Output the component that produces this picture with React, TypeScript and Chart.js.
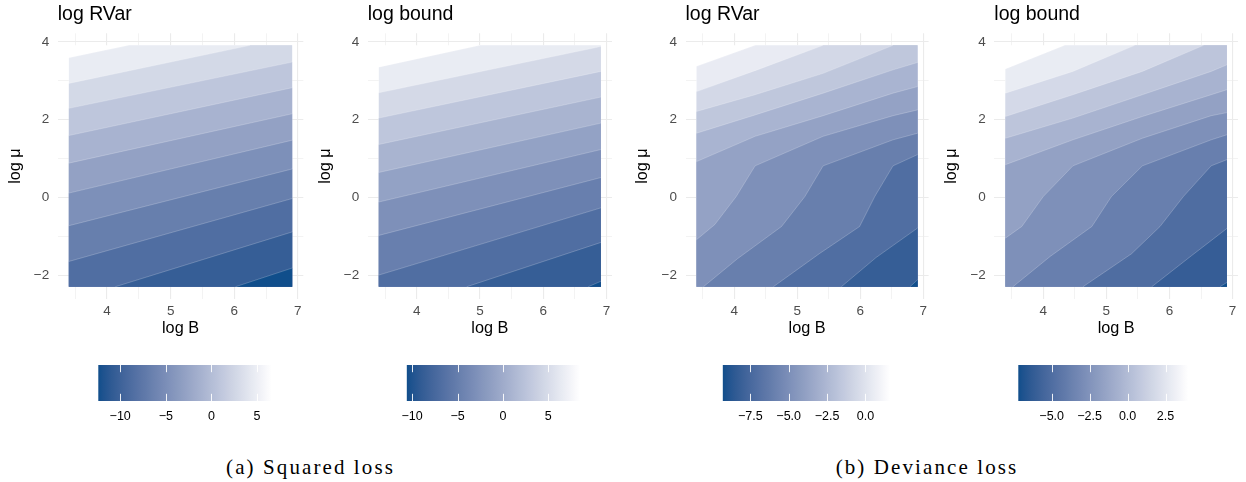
import React, { useEffect, useRef } from "react";
import { Chart, registerables } from "chart.js";

Chart.register(...registerables);

type Pt = [number, number];

// ---------------- data ----------------
const domainLogB: number[] = [3.40, 6.91];
const domainLogMu: number[] = [-2.30, 3.91];
const xGridValues = [3.5, 4, 4.5, 5, 5.5, 6, 6.5, 7];
const xTickLabels = [4, 5, 6, 7];
const yGridValues = [-2, -1, 0, 1, 2, 3, 4];
const yTickLabels = [-2, 0, 2, 4];

const panelTitles = ["log RVar", "log bound", "log RVar", "log bound"];
const xAxisTitle = "log B";
const yAxisTitle = "log \u03bc";
const captions = ["(a) Squared loss", "(b) Deviance loss"];

// contour boundaries (log B, log mu), from the lightest band edge to the darkest
const sqRVarLines: Pt[][] = [
  [[3.40, 3.59], [4.34, 3.91]],
  [[3.40, 2.93], [6.25, 3.91]],
  [[3.40, 2.29], [6.91, 3.48]],
  [[3.40, 1.59], [6.91, 2.82]],
  [[3.40, 0.88], [6.91, 2.15]],
  [[3.40, 0.11], [6.91, 1.47]],
  [[3.40, -0.73], [6.91, 0.73]],
  [[3.40, -1.65], [6.91, -0.03]],
  [[4.13, -2.30], [6.91, -0.89]],
  [[6.02, -2.30], [6.91, -1.82]],
];
const sqBoundLines: Pt[][] = [
  [[3.40, 3.35], [5.00, 3.91]],
  [[3.40, 2.69], [6.91, 3.88]],
  [[3.40, 2.04], [6.91, 3.24]],
  [[3.40, 1.36], [6.91, 2.58]],
  [[3.40, 0.64], [6.91, 1.91]],
  [[3.40, -0.12], [6.91, 1.23]],
  [[3.40, -0.98], [6.91, 0.51]],
  [[3.40, -2.00], [6.91, -0.27]],
  [[4.79, -2.30], [6.91, -1.16]],
  [[6.71, -2.30], [6.91, -2.16]],
];
const devRVarLines: Pt[][] = [
  [[3.40, 3.37], [4.33, 3.91]],
  [[3.40, 2.72], [4.33, 3.26], [5.41, 3.91]],
  [[3.40, 2.21], [4.33, 2.64], [5.41, 3.19], [6.52, 3.91]],
  [[3.40, 1.65], [4.33, 2.12], [5.41, 2.68], [6.52, 3.28], [6.91, 3.47]],
  [[3.40, 0.92], [4.33, 1.57], [5.41, 2.10], [6.52, 2.68], [6.91, 2.85]],
  [[3.40, -1.09], [3.69, -0.70], [4.03, 0.02], [4.33, 0.81], [5.41, 1.57], [6.52, 2.10], [6.91, 2.25]],
  [[3.51, -2.30], [4.05, -1.58], [4.75, -0.75], [5.12, 0.02], [5.41, 0.81], [6.52, 1.48], [6.91, 1.65]],
  [[4.62, -2.30], [5.35, -1.45], [5.99, -0.75], [6.23, 0.02], [6.52, 0.81], [6.91, 1.10]],
  [[5.70, -2.30], [6.25, -1.55], [6.91, -0.79]],
  [[6.79, -2.30], [6.91, -2.12]],
];
const devBoundLines: Pt[][] = [
  [[3.40, 3.30], [4.34, 3.91]],
  [[3.40, 2.68], [4.47, 3.24], [5.45, 3.91]],
  [[3.40, 2.08], [4.47, 2.64], [5.57, 3.24], [6.54, 3.91]],
  [[3.40, 1.52], [4.47, 2.04], [5.57, 2.64], [6.66, 3.24], [6.91, 3.41]],
  [[3.40, 0.84], [4.47, 1.48], [5.57, 2.08], [6.66, 2.64], [6.91, 2.77]],
  [[3.40, -1.05], [3.66, -0.75], [4.00, 0.02], [4.47, 0.81], [5.57, 1.52], [6.66, 2.10], [6.91, 2.18]],
  [[3.52, -2.30], [4.11, -1.52], [4.77, -0.75], [5.08, 0.02], [5.57, 0.81], [6.66, 1.48], [6.91, 1.61]],
  [[4.63, -2.30], [5.40, -1.45], [5.85, -0.75], [6.22, 0.02], [6.66, 0.81], [6.91, 0.97]],
  [[5.72, -2.30], [6.35, -1.50], [6.91, -0.80]],
  [[6.80, -2.30], [6.91, -2.19]],
];

// band values (darkest band first, lightest last)
const sqRVarLevels = [-12.4, -10.5, -8.6, -6.7, -4.8, -2.9, -1.0, 0.9, 2.8, 4.7, 6.6];
const sqBoundLevels = [-10.6, -8.7, -6.8, -4.8, -2.9, -1.0, 0.9, 2.8, 4.7, 6.6, 8.5];
const devRVarLevels = [-9.3, -8.2, -7.1, -6.0, -4.9, -3.8, -2.7, -1.6, -0.6, 0.5, 1.6];
const devBoundLevels = [-7.2, -6.1, -5.0, -3.8, -2.7, -1.6, -0.5, 0.6, 1.8, 2.9, 4.0];

// colour bar tick labels
const sqRVarBarTicks = [-10, -5, 0, 5];
const sqBoundBarTicks = [-10, -5, 0, 5];
const devRVarBarTicks = [-7.5, -5, -2.5, 0];
const devBoundBarTicks = [-5, -2.5, 0, 2.5];
const barTickDecimals = [0, 0, 1, 1];

const panelLines = [sqRVarLines, sqBoundLines, devRVarLines, devBoundLines];
const panelLevels = [sqRVarLevels, sqBoundLevels, devRVarLevels, devBoundLevels];
const panelBarTicks = [sqRVarBarTicks, sqBoundBarTicks, devRVarBarTicks, devBoundBarTicks];

// ---------------- layout / style ----------------
const SANS = "'Liberation Sans', Arial, Helvetica, sans-serif";
const SERIF = "'Liberation Serif', 'Times New Roman', serif";
const LOW_HEX = "#104E8B";
const HIGH_HEX = "#FFFFFF";
const GRID = "#EBEBEB";
const PANEL_H = 342;
const PLOT_BOTTOM = 298.8;
const TICK_SIZE = 13.5;
const BAR_LABEL_SIZE = 12.5;
const panelLayout = [
  { plotLeft: 57.7, plotRight: 303.3 },
  { plotLeft: 367.7, plotRight: 612.0 },
  { plotLeft: 685.5, plotRight: 928.6 },
  { plotLeft: 994.3, plotRight: 1238.0 },
];
const BAR_TOP = 365;
const BAR_H = 36;
const barLayout = [
  { left: 98.3, right: 271.7 },
  { left: 406.7, right: 580.0 },
  { left: 722.7, right: 890.0 },
  { left: 1018.3, right: 1188.3 },
];
const captionCenters = [310.5, 927];

// ---------------- colour ramp (Lab interpolation) ----------------
function hexToRgb(h: string): number[] {
  const n = parseInt(h.slice(1), 16);
  return [(n >> 16) & 255, (n >> 8) & 255, n & 255];
}
function toLin(c: number) {
  const v = c / 255;
  return v <= 0.04045 ? v / 12.92 : Math.pow((v + 0.055) / 1.055, 2.4);
}
function fromLin(c: number) {
  const v = c <= 0.0031308 ? 12.92 * c : 1.055 * Math.pow(c, 1 / 2.4) - 0.055;
  return Math.round(Math.min(1, Math.max(0, v)) * 255);
}
function rgbToLab(rgb: number[]) {
  const [r, g, b] = rgb.map(toLin);
  const X = (0.4124564 * r + 0.3575761 * g + 0.1804375 * b) / 0.95047;
  const Y = 0.2126729 * r + 0.7151522 * g + 0.072175 * b;
  const Z = (0.0193339 * r + 0.119192 * g + 0.9503041 * b) / 1.08883;
  const f = (t: number) => (t > 0.008856 ? Math.cbrt(t) : 7.787 * t + 16 / 116);
  const fx = f(X), fy = f(Y), fz = f(Z);
  return [116 * fy - 16, 500 * (fx - fy), 200 * (fy - fz)];
}
function labToCss(lab: number[]) {
  const [L, a, b] = lab;
  const fy = (L + 16) / 116, fx = fy + a / 500, fz = fy - b / 200;
  const inv = (t: number) => {
    const t3 = t * t * t;
    return t3 > 0.008856 ? t3 : (t - 16 / 116) / 7.787;
  };
  const X = 0.95047 * inv(fx), Y = inv(fy), Z = 1.08883 * inv(fz);
  const r = 3.2404542 * X - 1.5371385 * Y - 0.4985314 * Z;
  const g = -0.969266 * X + 1.8760108 * Y + 0.041556 * Z;
  const bb = 0.0556434 * X - 0.2040259 * Y + 1.0572252 * Z;
  return `rgb(${fromLin(r)},${fromLin(g)},${fromLin(bb)})`;
}
const LOW_LAB = rgbToLab(hexToRgb(LOW_HEX));
const HIGH_LAB = rgbToLab(hexToRgb(HIGH_HEX));
function rampColor(t: number) {
  const u = Math.min(1, Math.max(0, t));
  return labToCss(LOW_LAB.map((v, i) => v + (HIGH_LAB[i] - v) * u));
}

function fmt(v: number, d: number) {
  const s = Math.abs(v).toFixed(d);
  return (v < 0 ? "\u2212" : "") + s;
}

// ---------------- polygon closing along the plot domain ----------------
function perimeterPos(p: Pt): number {
  const [x0, x1] = domainLogB;
  const [y0, y1] = domainLogMu;
  const [x, y] = p;
  const d = [Math.abs(y - y1), Math.abs(x - x1), Math.abs(y - y0), Math.abs(x - x0)];
  const e = d.indexOf(Math.min(...d));
  if (e === 0) return (x - x0) / (x1 - x0);
  if (e === 1) return 1 + (y1 - y) / (y1 - y0);
  if (e === 2) return 2 + (x1 - x) / (x1 - x0);
  return 3 + (y - y0) / (y1 - y0);
}
function corner(k: number): Pt {
  const [x0, x1] = domainLogB;
  const [y0, y1] = domainLogMu;
  const m = ((k % 4) + 4) % 4;
  if (m === 1) return [x1, y1];
  if (m === 2) return [x1, y0];
  if (m === 3) return [x0, y0];
  return [x0, y1];
}
function closeBelow(line: Pt[]): Pt[] {
  const pe = perimeterPos(line[line.length - 1]);
  let ps = perimeterPos(line[0]);
  if (ps <= pe) ps += 4;
  const out: Pt[] = line.slice();
  for (let c = Math.ceil(pe); c < ps; c++) out.push(corner(c));
  return out;
}

// ---------------- chart configs ----------------
function makePanelConfig(idx: number, canvasLeft: number, canvasW: number) {
  const lay = panelLayout[idx];
  const lines = panelLines[idx];
  const levels = panelLevels[idx];
  const lo = Math.min(...levels), hi = Math.max(...levels);
  const col = (v: number) => rampColor((v - lo) / (hi - lo));
  const [x0, x1] = domainLogB;
  const [y0, y1] = domainLogMu;
  const ex = (x1 - x0) * 0.05, ey = (y1 - y0) * 0.05;

  const polys: { pts: Pt[]; color: string }[] = [];
  polys.push({ pts: [[x0, y1], [x1, y1], [x1, y0], [x0, y0]], color: col(levels[levels.length - 1]) });
  lines.forEach((ln, i) => polys.push({ pts: closeBelow(ln), color: col(levels[levels.length - 2 - i]) }));

  const total = polys.length + lines.length;
  const datasets: any[] = [];
  polys.forEach((p, k) =>
    datasets.push({
      data: p.pts.map(([x, y]) => ({ x, y })),
      showLine: true,
      fill: "shape",
      backgroundColor: p.color,
      borderColor: "rgba(0,0,0,0)",
      borderWidth: 0,
      pointRadius: 0,
      pointHoverRadius: 0,
      tension: 0,
      order: total - k,
    })
  );
  lines.forEach((ln, k) =>
    datasets.push({
      data: ln.map(([x, y]) => ({ x, y })),
      showLine: true,
      fill: false,
      borderColor: "rgba(255,255,255,0.35)",
      borderWidth: 0.6,
      pointRadius: 0,
      pointHoverRadius: 0,
      tension: 0,
      order: total - polys.length - k,
    })
  );

  const yAxisW = lay.plotLeft - canvasLeft;
  const yTitleCenter = lay.plotLeft - 42.6 - canvasLeft;
  const padRight = canvasW - (lay.plotRight - canvasLeft);

  return {
    type: "scatter",
    data: { datasets },
    options: {
      responsive: false,
      animation: false,
      events: [],
      layout: { padding: { left: 0, right: padRight, top: 0, bottom: 0 } },
      plugins: {
        legend: { display: false },
        tooltip: { enabled: false },
        title: {
          display: true,
          text: panelTitles[idx],
          align: "start",
          fullSize: false,
          color: "#000",
          font: { family: SANS, size: 19.5, weight: "normal" },
          padding: { top: 3.2, bottom: 6.7 },
        },
      },
      scales: {
        x: {
          type: "linear",
          min: x0 - ex,
          max: x1 + ex,
          afterBuildTicks: (s: any) => {
            s.ticks = xGridValues.map((v) => ({ value: v }));
          },
          afterFit: (s: any) => {
            s.height = PANEL_H - PLOT_BOTTOM;
          },
          border: { display: false },
          grid: {
            drawTicks: false,
            color: GRID,
            lineWidth: (c: any) => (c.tick && xTickLabels.includes(c.tick.value) ? 1.1 : 0.6),
          },
          ticks: {
            autoSkip: false,
            maxRotation: 0,
            padding: 4.6,
            color: "#4D4D4D",
            font: { family: SANS, size: TICK_SIZE },
            callback: (v: any) => (xTickLabels.includes(v) ? fmt(v, 0) : ""),
          },
          title: {
            display: true,
            text: xAxisTitle,
            color: "#000",
            font: { family: SANS, size: 16.25 },
            padding: { top: 0, bottom: 3.85 },
          },
        },
        y: {
          type: "linear",
          min: y0 - ey,
          max: y1 + ey,
          afterBuildTicks: (s: any) => {
            s.ticks = yGridValues.map((v) => ({ value: v }));
          },
          afterFit: (s: any) => {
            s.width = yAxisW;
          },
          border: { display: false },
          grid: {
            drawTicks: false,
            color: GRID,
            lineWidth: (c: any) => (c.tick && yTickLabels.includes(c.tick.value) ? 1.1 : 0.6),
          },
          ticks: {
            autoSkip: false,
            padding: 8.5,
            color: "#4D4D4D",
            font: { family: SANS, size: TICK_SIZE },
            callback: (v: any) => (yTickLabels.includes(v) ? fmt(v, 0) : ""),
          },
          title: {
            display: true,
            text: yAxisTitle,
            color: "#000",
            font: { family: SANS, size: 16.25 },
            padding: { top: yTitleCenter - 9.75, bottom: 0 },
          },
        },
      },
    },
  };
}

const colorbarTickPlugin = {
  id: "colorbarTicks",
  afterDatasetsDraw(chart: any) {
    const { ctx, chartArea: a, scales } = chart;
    const xs = scales.x;
    const h = (a.bottom - a.top) / 5;
    ctx.save();
    ctx.strokeStyle = "rgba(255,255,255,0.9)";
    ctx.lineWidth = 1;
    for (const t of xs.ticks) {
      const px = Math.round(xs.getPixelForValue(t.value)) + 0.5;
      ctx.beginPath();
      ctx.moveTo(px, a.top);
      ctx.lineTo(px, a.top + h);
      ctx.moveTo(px, a.bottom - h);
      ctx.lineTo(px, a.bottom);
      ctx.stroke();
    }
    ctx.restore();
  },
};

function makeBarConfig(idx: number, canvasLeft: number, canvasW: number, canvasH: number) {
  const lay = barLayout[idx];
  const levels = panelLevels[idx];
  const lo = Math.min(...levels), hi = Math.max(...levels);
  const ticks = panelBarTicks[idx];
  const dec = barTickDecimals[idx];
  const padLeft = lay.left - canvasLeft;
  const padRight = canvasW - (lay.right - canvasLeft);
  return {
    type: "bar",
    data: {
      labels: [""],
      datasets: [
        {
          data: [[lo, hi]],
          barPercentage: 1,
          categoryPercentage: 1,
          borderWidth: 0,
          backgroundColor: (c: any) => {
            const chart = c.chart;
            const xs = chart.scales && chart.scales.x;
            if (!xs || !chart.chartArea) return LOW_HEX;
            const p0 = xs.getPixelForValue(lo), p1 = xs.getPixelForValue(hi);
            const g = chart.ctx.createLinearGradient(p0, 0, p1, 0);
            const n = 40;
            for (let i = 0; i <= n; i++) g.addColorStop(i / n, rampColor(i / n));
            return g;
          },
        },
      ],
    },
    options: {
      indexAxis: "y",
      responsive: false,
      animation: false,
      events: [],
      layout: { padding: { left: padLeft, right: padRight, top: 0, bottom: 0 } },
      plugins: { legend: { display: false }, tooltip: { enabled: false }, title: { display: false } },
      scales: {
        y: { type: "category", display: false },
        x: {
          type: "linear",
          min: lo,
          max: hi,
          afterBuildTicks: (s: any) => {
            s.ticks = ticks.map((v) => ({ value: v }));
          },
          afterFit: (s: any) => {
            s.height = canvasH - BAR_H;
          },
          border: { display: false },
          grid: { display: false, drawTicks: false },
          ticks: {
            autoSkip: false,
            maxRotation: 0,
            padding: 7.8,
            color: "#000",
            font: { family: SANS, size: BAR_LABEL_SIZE },
            callback: (v: any) => fmt(v, dec),
          },
        },
      },
    },
    plugins: [colorbarTickPlugin],
  };
}

function ContourPanel({ idx }: { idx: number }) {
  const ref = useRef<HTMLCanvasElement>(null);
  const lay = panelLayout[idx];
  const canvasLeft = Math.floor(lay.plotLeft - 60);
  const canvasW = Math.ceil(lay.plotRight - canvasLeft + 8);
  useEffect(() => {
    const chart = new Chart(ref.current as HTMLCanvasElement, makePanelConfig(idx, canvasLeft, canvasW) as any);
    return () => chart.destroy();
  }, [idx, canvasLeft, canvasW]);
  return (
    <canvas
      ref={ref}
      width={canvasW}
      height={PANEL_H}
      style={{ position: "absolute", left: canvasLeft, top: 0, width: canvasW, height: PANEL_H }}
    />
  );
}

function ColorBar({ idx }: { idx: number }) {
  const ref = useRef<HTMLCanvasElement>(null);
  const lay = barLayout[idx];
  const canvasLeft = Math.floor(lay.left - 22);
  const canvasW = Math.ceil(lay.right - canvasLeft + 22);
  const canvasH = BAR_H + 32;
  useEffect(() => {
    const chart = new Chart(ref.current as HTMLCanvasElement, makeBarConfig(idx, canvasLeft, canvasW, canvasH) as any);
    return () => chart.destroy();
  }, [idx, canvasLeft, canvasW, canvasH]);
  return (
    <canvas
      ref={ref}
      width={canvasW}
      height={canvasH}
      style={{ position: "absolute", left: canvasLeft, top: BAR_TOP, width: canvasW, height: canvasH }}
    />
  );
}

export default function App() {
  return (
    <div
      style={{
        position: "absolute",
        left: 0,
        top: 0,
        width: 1246,
        height: 482,
        background: "#fff",
        overflow: "hidden",
      }}
    >
      {[0, 1, 2, 3].map((i) => (
        <ContourPanel key={"p" + i} idx={i} />
      ))}
      {[0, 1, 2, 3].map((i) => (
        <ColorBar key={"b" + i} idx={i} />
      ))}
      {captions.map((c, i) => (
        <div
          key={"c" + i}
          style={{
            position: "absolute",
            left: captionCenters[i] - 150,
            width: 300,
            top: 456.7,
            textAlign: "center",
            fontFamily: SERIF,
            fontSize: 21,
            lineHeight: "21px",
            letterSpacing: "2.1px",
            color: "#000",
            whiteSpace: "nowrap",
          }}
        >
          {c}
        </div>
      ))}
    </div>
  );
}
